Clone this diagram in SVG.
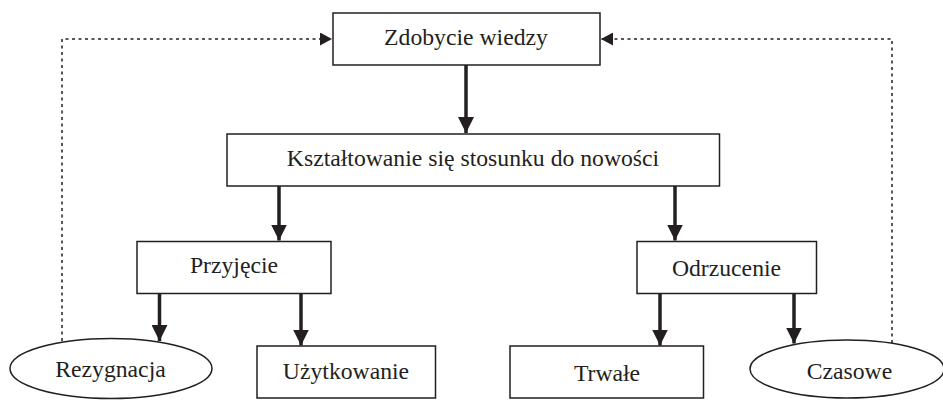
<svg xmlns="http://www.w3.org/2000/svg" width="943" height="400" viewBox="0 0 943 400">
<defs>
<style>
.box{fill:#fff;stroke:#231f20;stroke-width:1.5}
.lbl{font-family:'Liberation Serif','DejaVu Serif',serif;font-size:23.7px;fill:#231f20;text-anchor:middle}
.solid{stroke:#231f20;stroke-width:3.5;fill:none}
.dot{stroke:#231f20;stroke-width:1.5;fill:none;stroke-dasharray:3 3.5}
</style>
<marker id="ah" markerUnits="userSpaceOnUse" markerWidth="18" markerHeight="16" viewBox="0 0 18 16" refX="16" refY="8" orient="auto">
<path d="M0,0 L16,8 L0,16 Z" fill="#231f20"/>
</marker>
<marker id="ahs" markerUnits="userSpaceOnUse" markerWidth="13" markerHeight="13" viewBox="0 0 13 13" refX="12" refY="6.5" orient="auto">
<path d="M0,0 L12,6.5 L0,13 Z" fill="#231f20"/>
</marker>
</defs>
<g id="connectors">
<path class="solid" d="M466,65 V133" marker-end="url(#ah)"/>
<path class="solid" d="M279,186 V240.5" marker-end="url(#ah)"/>
<path class="solid" d="M675,186 V240.5" marker-end="url(#ah)"/>
<path class="solid" d="M159.5,294 V341" marker-end="url(#ah)"/>
<path class="solid" d="M301,294 V345.5" marker-end="url(#ah)"/>
<path class="solid" d="M660,294 V345.5" marker-end="url(#ah)"/>
<path class="solid" d="M794,294 V343.5" marker-end="url(#ah)"/>
<path class="dot" d="M62,341 V39 H332" marker-end="url(#ahs)"/>
<path class="dot" d="M892,343 V39 H601" marker-end="url(#ahs)"/>
</g>
<g id="zdobycie">
<rect class="box" x="333" y="13" width="267" height="52"/>
<text class="lbl" font-family="Liberation Serif, serif" x="466" y="45">Zdobycie wiedzy</text>
</g>
<g id="ksztaltowanie">
<rect class="box" x="227" y="134" width="492.5" height="52"/>
<text class="lbl" font-family="Liberation Serif, serif" x="473" y="165.5">Kształtowanie się stosunku do nowości</text>
</g>
<g id="przyjecie">
<rect class="box" x="137" y="241.5" width="194" height="52"/>
<text class="lbl" font-family="Liberation Serif, serif" x="234" y="273">Przyjęcie</text>
</g>
<g id="odrzucenie">
<rect class="box" x="637" y="241.5" width="179.5" height="52"/>
<text class="lbl" font-family="Liberation Serif, serif" x="726.5" y="276">Odrzucenie</text>
</g>
<g id="rezygnacja">
<ellipse class="box" cx="111" cy="368.5" rx="101" ry="30"/>
<text class="lbl" font-family="Liberation Serif, serif" x="110.5" y="377">Rezygnacja</text>
</g>
<g id="uzytkowanie">
<rect class="box" x="257" y="346" width="178.5" height="52"/>
<text class="lbl" font-family="Liberation Serif, serif" x="346" y="379">Użytkowanie</text>
</g>
<g id="trwale">
<rect class="box" x="510" y="346" width="193.5" height="52"/>
<text class="lbl" font-family="Liberation Serif, serif" x="607" y="380.5">Trwałe</text>
</g>
<g id="czasowe">
<ellipse class="box" cx="847" cy="369" rx="97" ry="29"/>
<text class="lbl" font-family="Liberation Serif, serif" x="849.5" y="378.5">Czasowe</text>
</g>
</svg>
